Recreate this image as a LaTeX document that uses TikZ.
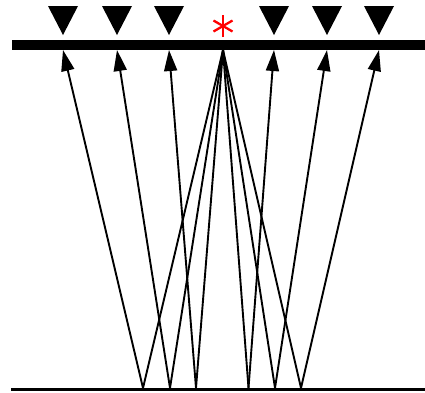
\documentclass[tikz,border=0pt]{standalone}
\usetikzlibrary{arrows.meta}
\begin{document}
\begin{tikzpicture}[x=1pt,y=-1pt,
  ray/.style={line width=1.9pt,-{Triangle[length=21pt,width=13pt]}},
  raydown/.style={line width=1.9pt},
  rcv/.style={fill=black},
  spoke/.style={draw=red,line width=2.3pt}]
\useasboundingbox (0,0) rectangle (425,392);
% surface bar and bottom reflector
\fill (12,40) rectangle (425,50);
\fill (11,388) rectangle (425,391);
% source
\coordinate (src) at (223,50);
\coordinate (star) at (223,26);
\foreach \a in {90,30,150}{
  \draw[spoke] (star) ++(\a:11) -- ++(\a+180:22);
}
% receivers
\foreach \n/\x in {1/63,2/117,3/169,4/274,5/327,6/379}{
  \coordinate (r\n) at (\x,50);
  \coordinate (b\n) at ({(223+\x)/2},388);
  \fill[rcv] (\x-15,6) -- (\x+15,6) -- (\x,35) -- cycle;
  \draw[raydown] (src) -- (b\n);
  \draw[ray] (b\n) -- (r\n);
}
\end{tikzpicture}
\end{document}
